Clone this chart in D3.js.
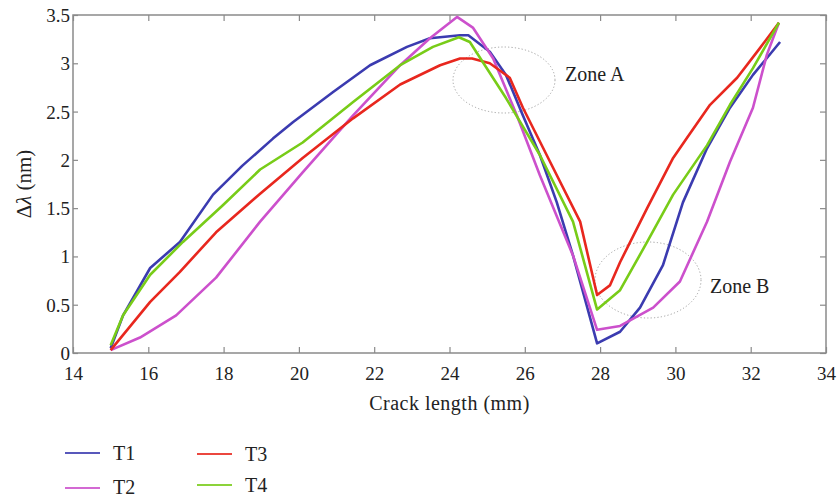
<!DOCTYPE html>
<html><head><meta charset="utf-8">
<script src="https://cdn.jsdelivr.net/npm/d3@7"></script>
<style>body{margin:0;background:#fff}svg{display:block}svg text{font-family:"Liberation Serif",serif !important;fill:#222}</style>
</head><body><svg id="c" width="837" height="498" style="font-family:'Liberation Serif',serif"></svg>
<script>
const seriesNames = ["T1","T2","T3","T4"];
const seriesColors = ["#3b3bb0","#cc50cc","#e8271e","#78cc18"];
const t1X = [15,15.33,16.05,16.84,17.72,18.5,19.31,19.84,20.9,21.89,22.87,23.48,24.28,24.5,25.07,25.5,25.95,26.4,26.85,27.28,27.92,28.53,29.06,29.67,30.2,30.84,31.45,32.06,32.78];
const t1V = [0.05,0.39,0.88,1.15,1.64,1.94,2.22,2.39,2.70,2.98,3.17,3.26,3.29,3.29,3.12,2.88,2.46,2.05,1.56,1.01,0.10,0.22,0.47,0.91,1.56,2.12,2.54,2.88,3.22];
const t2X = [15,15.78,16.74,17.8,18.97,20.1,21.44,22.69,23.48,24.2,24.62,25.16,25.79,26.4,27.28,27.92,28.53,29.41,30.12,30.84,31.45,32.06,32.43,32.75];
const t2V = [0.03,0.16,0.39,0.78,1.36,1.87,2.46,2.98,3.26,3.48,3.37,3.05,2.46,1.84,1.01,0.24,0.28,0.47,0.74,1.36,1.98,2.54,3.09,3.42];
const t3X = [15,16.05,16.84,17.8,18.97,20.1,21.44,22.69,23.75,24.28,24.6,25.07,25.6,25.95,26.67,27.47,27.92,28.26,28.53,29.25,29.94,30.31,30.92,31.64,32.25,32.75];
const t3V = [0.03,0.53,0.84,1.25,1.65,2.02,2.43,2.78,2.98,3.05,3.05,3.0,2.85,2.54,1.98,1.36,0.60,0.70,0.94,1.50,2.02,2.23,2.57,2.85,3.16,3.42];
const t4X = [15,15.33,16.05,16.92,17.98,18.97,20.1,21.44,22.69,23.56,24.25,24.54,25.5,26.4,27.28,27.92,28.53,29.25,29.94,30.84,31.45,32.06,32.75];
const t4V = [0.08,0.39,0.81,1.15,1.53,1.90,2.18,2.60,2.98,3.17,3.27,3.22,2.64,2.05,1.36,0.45,0.65,1.15,1.64,2.15,2.57,2.95,3.42];
const xTicks = [14,16,18,20,22,24,26,28,30,32,34];
const yTicks = [0,0.5,1,1.5,2,2.5,3,3.5];
const yTickLabels = ["0","0.5","1","1.5","2","2.5","3","3.5"];
const zoneLabels = ["Zone A","Zone B"];

const seriesX = [t1X,t2X,t3X,t4X], seriesV = [t1V,t2V,t3V,t4V];
const svg = d3.select("#c");
const L=73,R=826,T=15,B=353;
const x = d3.scaleLinear().domain([14,34]).range([L,R]);
const y = d3.scaleLinear().domain([0,3.5]).range([B,T]);
const axisCol = "#8a8a8a";

// frame
svg.append("rect").attr("x",L).attr("y",T).attr("width",R-L).attr("height",B-T)
  .attr("fill","none").attr("stroke",axisCol).attr("stroke-width",1.5);

// axes
const gb = svg.append("g").attr("transform",`translate(0,${B})`)
  .call(d3.axisBottom(x).tickValues(xTicks).tickSizeInner(-6).tickSizeOuter(0).tickPadding(14));
const gt = svg.append("g").attr("transform",`translate(0,${T})`)
  .call(d3.axisTop(x).tickValues(xTicks).tickSizeInner(-6).tickSizeOuter(0).tickFormat(""));
const gl = svg.append("g").attr("transform",`translate(${L},0)`)
  .call(d3.axisLeft(y).tickValues(yTicks).tickSizeInner(-5).tickSizeOuter(0).tickPadding(3)
  .tickFormat((d,i)=>yTickLabels[i]));
const gr = svg.append("g").attr("transform",`translate(${R},0)`)
  .call(d3.axisRight(y).tickValues(yTicks).tickSizeInner(-6).tickSizeOuter(0).tickFormat(""));
[gb,gt,gl,gr].forEach(g=>{
  g.attr("font-family","Liberation Serif");
  g.select(".domain").remove();
  g.selectAll(".tick line").attr("stroke",axisCol).attr("stroke-width",1.2);
  g.selectAll(".tick text").attr("font-size",19).attr("fill","#222");
});
gl.selectAll(".tick text").attr("dy","0.34em");

// axis titles
svg.append("text").attr("x",(L+R)/2).attr("y",410).attr("text-anchor","middle")
  .attr("font-size",20).attr("letter-spacing",0.5).text("Crack length (mm)");
const yl = svg.append("text").attr("transform","translate(31,184) rotate(-90)")
  .attr("text-anchor","middle").attr("font-size",21);
yl.append("tspan").text("Δ");
yl.append("tspan").attr("font-style","italic").text("λ");
yl.append("tspan").text(" (nm)");

// zones
svg.append("ellipse").attr("cx",504).attr("cy",80).attr("rx",51).attr("ry",33)
  .attr("fill","none").attr("stroke","#a0a0a0").attr("stroke-width",1).attr("stroke-dasharray","1.2,2.2");
svg.append("ellipse").attr("cx",648).attr("cy",280).attr("rx",53).attr("ry",38)
  .attr("fill","none").attr("stroke","#a0a0a0").attr("stroke-width",1).attr("stroke-dasharray","1.2,2.2");
svg.append("text").attr("x",565).attr("y",81).attr("font-size",20).text(zoneLabels[0]);
svg.append("text").attr("x",710).attr("y",293).attr("font-size",20).text(zoneLabels[1]);

// lines
const line = d3.line().x(d=>x(d[0])).y(d=>y(d[1]));
seriesNames.forEach((n,i)=>{
  const pts = seriesX[i].map((xv,j)=>[xv,seriesV[i][j]]);
  svg.append("path").datum(pts).attr("d",line).attr("fill","none")
    .attr("stroke",seriesColors[i]).attr("stroke-width",2.6).attr("stroke-linejoin","round");
});

// legend
const legPos = [[65,453,460],[65,488,494],[197,454,461],[197,485,492]];
seriesNames.forEach((n,i)=>{
  const [lx,ly,ty]=legPos[i];
  svg.append("line").attr("x1",lx).attr("x2",lx+35).attr("y1",ly).attr("y2",ly)
    .attr("stroke",seriesColors[i]).attr("stroke-width",1.8).attr("opacity",0.85);
  svg.append("text").attr("x",lx+48).attr("y",ty).attr("font-size",20).text(n);
});
</script></body></html>
